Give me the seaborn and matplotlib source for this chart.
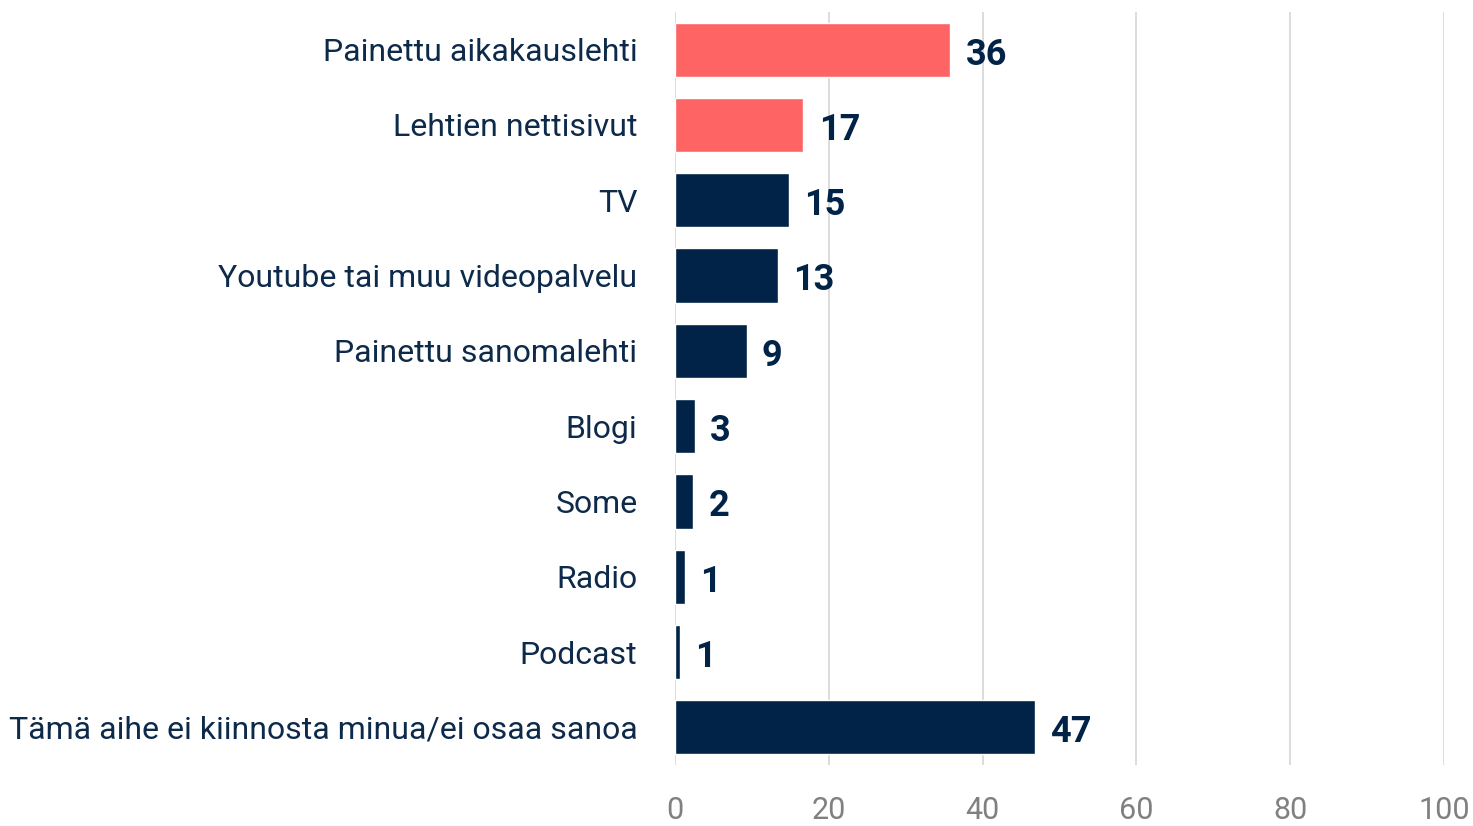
import matplotlib
matplotlib.use("Agg")
import matplotlib.pyplot as plt
import seaborn as sns
import pandas as pd

categories = [
    "Painettu aikakauslehti",
    "Lehtien nettisivut",
    "TV",
    "Youtube tai muu videopalvelu",
    "Painettu sanomalehti",
    "Blogi",
    "Some",
    "Radio",
    "Podcast",
    "Tämä aihe ei kiinnosta minua/ei osaa sanoa",
]
values = [35.8, 16.7, 14.8, 13.4, 9.3, 2.6, 2.4, 1.3, 0.6, 46.8]
value_labels = ["36", "17", "15", "13", "9", "3", "2", "1", "1", "47"]
highlight = [True, True, False, False, False, False, False, False, False, False]
x_ticks = [0, 20, 40, 60, 80, 100]

CORAL = "#FF6464"
NAVY = "#002347"

sns.set_theme(style="white")
plt.rcParams["font.family"] = ["Roboto", "DejaVu Sans"]

df = pd.DataFrame({"cat": categories, "val": values,
                   "grp": ["h" if h else "n" for h in highlight]})

fig = plt.figure(figsize=(14.73, 8.26), dpi=100)
ax = fig.add_axes([675 / 1473, 1 - 765 / 826, (1444 - 675) / 1473, (765 - 12) / 826])

sns.barplot(data=df, x="val", y="cat", hue="grp", palette={"h": CORAL, "n": NAVY},
            dodge=False, legend=False, width=0.72, saturation=1, ax=ax, zorder=3)

ax.set_xlim(0, 100)
ax.set_ylim(9.5, -0.5)
ax.set_xticks(x_ticks)
ax.set_xticklabels([str(t) for t in x_ticks])
ax.xaxis.grid(True, color="#d9d9d9", linewidth=1.3, zorder=0)
ax.yaxis.grid(False)
for s in ax.spines.values():
    s.set_visible(False)
ax.set_xlabel("")
ax.set_ylabel("")
ax.tick_params(axis="x", length=0, pad=22, labelsize=22, labelcolor="#808080")
ax.tick_params(axis="y", length=0, pad=27, labelsize=23, labelcolor="#0d2a4a")

for i, (v, lab) in enumerate(zip(values, value_labels)):
    ax.annotate(lab, xy=(v, i), xytext=(11, -3.5), textcoords="offset points",
                va="center", ha="left", fontsize=26, fontweight="bold", color=NAVY)

fig.savefig("out.png", dpi=100)
